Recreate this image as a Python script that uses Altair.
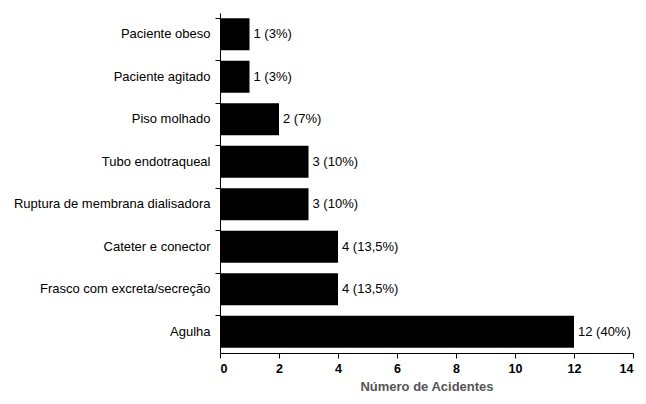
import altair as alt
import pandas as pd

categories = [
    "Paciente obeso",
    "Paciente agitado",
    "Piso molhado",
    "Tubo endotraqueal",
    "Ruptura de membrana dialisadora",
    "Cateter e conector",
    "Frasco com excreta/secreção",
    "Agulha",
]
values = [1, 1, 2, 3, 3, 4, 4, 12]
labels = ["1 (3%)", "1 (3%)", "2 (7%)", "3 (10%)", "3 (10%)", "4 (13,5%)", "4 (13,5%)", "12 (40%)"]
x_ticks = [0, 2, 4, 6, 8, 10, 12, 14]

df = pd.DataFrame({"cat": categories, "val": values, "lab": labels})

FONT = "Liberation Sans"

y_enc = alt.Y(
    "cat:N",
    sort=categories,
    scale=alt.Scale(paddingInner=0.25, paddingOuter=0.125),
    axis=alt.Axis(
        title=None,
        bandPosition=0,
        tickSize=5,
        tickColor="black",
        domainColor="black",
        labelPadding=5,
        labelFont=FONT,
        labelFontSize=13,
        labelColor="black",
        labelLimit=400,
    ),
)
x_enc = alt.X(
    "val:Q",
    scale=alt.Scale(domain=[0, 14], nice=False),
    axis=alt.Axis(
        title="Número de Acidentes",
        values=x_ticks,
        grid=False,
        tickSize=5,
        tickColor="black",
        domainColor="black",
        labelFont=FONT,
        labelFontSize=12.5,
        labelFontWeight="bold",
        labelColor="black",
        labelPadding=4,
        titleFont=FONT,
        titleFontSize=13,
        titleFontWeight="bold",
        titleColor="#555555",
        titlePadding=6,
    ),
)

base = alt.Chart(df)
bars = base.mark_bar(color="black").encode(x=x_enc, y=y_enc)
text = base.mark_text(align="left", baseline="middle", dx=4, font=FONT, fontSize=13, color="black").encode(
    x=alt.X("val:Q"), y=alt.Y("cat:N", sort=categories), text="lab:N"
)

chart = (
    alt.layer(bars, text)
    .properties(
        width=413,
        height=340,
        autosize=alt.AutoSizeParams(type="none"),
        padding={"left": 212, "top": 5, "right": 5, "bottom": 43},
    )
    .configure_view(stroke=None)
)

chart.save("out.html", embed_options={"renderer": "svg", "actions": False})
